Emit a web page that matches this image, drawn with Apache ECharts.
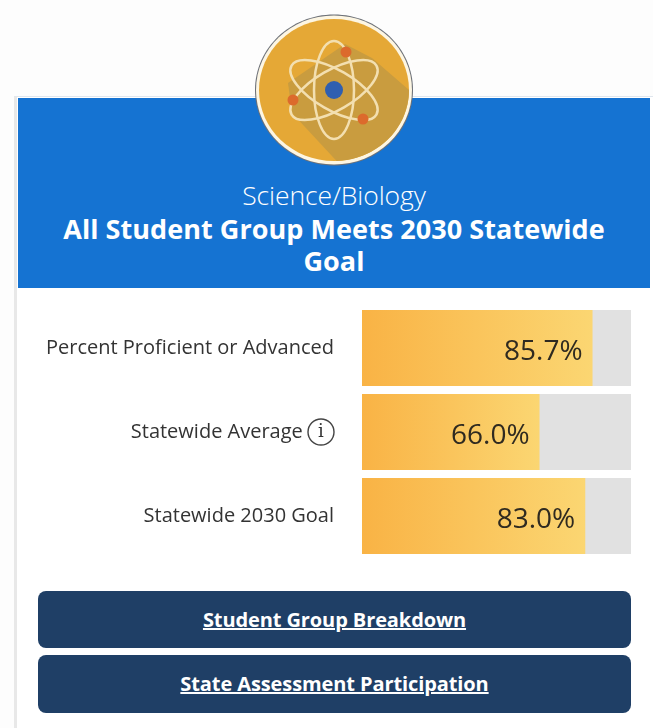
<!DOCTYPE html>
<html>
<head>
<meta charset="utf-8">
<title>Science/Biology</title>
<script src="https://cdn.jsdelivr.net/npm/echarts@6/dist/echarts.min.js"></script>
<style>
	html, body { margin: 0; padding: 0; }
	body { width: 653px; height: 728px; background: #fdfdfd; overflow: hidden; font-family: "Open Sans", sans-serif; position: relative; }
	.card { position: absolute; left: 14px; top: 96px; width: 639px; height: 632px; background: #fff; border-left: 3px solid #e8e8e8; border-top: 1px solid #dfe6ee; }
	.header { position: absolute; left: 18px; top: 98px; width: 632px; height: 190px; background: #1573d2; color: #fff; text-align: center; }
	.subject { position: absolute; left: 0; right: 0; top: 81px; font-size: 26.5px; line-height: 32px; font-weight: 300; letter-spacing: -0.1px; }
	.goal { position: absolute; left: 30px; right: 30px; top: 115px; font-size: 27px; line-height: 32px; font-weight: 700; letter-spacing: 0.05px; }
	.btn { position: absolute; left: 38px; width: 593px; background: #1f3f66; border-radius: 8px; color: #fff; text-align: center; font-size: 20px; font-weight: 700; text-decoration: underline; letter-spacing: -0.1px; }
	#chart { position: absolute; left: 0; top: 0; width: 653px; height: 728px; }
</style>
</head>
<body>
<div class="card"></div>
<div class="header">
	<div class="subject">Science/Biology</div>
	<div class="goal">All Student Group Meets 2030 Statewide Goal</div>
</div>
<div class="btn" style="top:591px;height:57px;line-height:57px">Student Group Breakdown</div>
<div class="btn" style="top:655px;height:58px;line-height:58px">State Assessment Participation</div>
<div id="chart"></div>
<script>
	var categories = ['Percent Proficient or Advanced', 'Statewide Average', 'Statewide 2030 Goal'];
	var percentValues = [85.7, 66.0, 83.0];
	var trackValues = [100, 100, 100];

	var chart = echarts.init(document.getElementById('chart'));

	//原子图标
	var cx = 334, cy = 90;
	function orbit(angle) {
		return {
			type: 'ellipse',
			x: cx, y: cy,
			rotation: angle * Math.PI / 180,
			shape: { cx: 0, cy: 0, rx: 49, ry: 20 },
			style: { fill: null, stroke: '#f3dfb0', lineWidth: 2.5 },
			z: 5
		};
	}
	function electron(x, y) {
		return { type: 'circle', shape: { cx: x, cy: y, r: 5.5 }, style: { fill: '#dc6a2c' }, z: 6 };
	}
	//长阴影，沿圆边走一段
	function shadowPoints() {
		var pts = [[345, 44], [372, 58]];
		for (var a = 0; a <= 88; a += 4) {
			var r = a * Math.PI / 180;
			pts.push([cx + 75 * Math.cos(r), cy + 71 * Math.sin(r)]);
		}
		pts.push([292, 113], [288, 83]);
		return pts;
	}

	chart.setOption({
		animation: false,
		grid: { left: 362, top: 306, width: 269, height: 252 },
		xAxis: { type: 'value', min: 0, max: 100, show: false },
		yAxis: {
			type: 'category',
			inverse: true,
			data: categories,
			axisLine: { show: false },
			axisTick: { show: false },
			axisLabel: {
				margin: 28,
				fontFamily: 'Open Sans',
				fontSize: 20,
				color: '#333',
				formatter: function (value) {
					return value === 'Statewide Average' ? value + ' {info|i}' : value;
				},
				rich: {
					info: {
						fontFamily: 'DejaVu Serif',
						fontSize: 18,
						color: '#333',
						width: 26,
						height: 26,
						lineHeight: 26,
						align: 'center',
						borderColor: '#444',
						borderWidth: 1.4,
						borderRadius: 14
					}
				}
			}
		},
		series: [{
			name: 'track',
			type: 'bar',
			data: trackValues,
			barWidth: 76,
			barGap: '-100%',
			itemStyle: { color: '#e1e1e1' },
			silent: true
		}, {
			name: 'percent',
			type: 'bar',
			data: percentValues,
			barWidth: 76,
			itemStyle: {
				color: new echarts.graphic.LinearGradient(0, 0, 1, 0, [
					{ offset: 0, color: '#f9b345' },
					{ offset: 1, color: '#fbd672' }
				])
			},
			label: {
				show: true,
				position: 'insideRight',
				distance: 10,
				fontFamily: 'Open Sans',
				fontSize: 28,
				color: '#2f2a20',
				offset: [0, 4],
				formatter: function (p) { return p.value.toFixed(1) + '%'; }
			}
		}],
		graphic: [
			{ type: 'ellipse', shape: { cx: cx, cy: cy, rx: 79, ry: 75.5 }, style: { fill: '#6d7178' }, z: 1 },
			{ type: 'ellipse', shape: { cx: cx, cy: cy, rx: 78, ry: 74.5 }, style: { fill: '#fdf6e3' }, z: 2 },
			{ type: 'ellipse', shape: { cx: cx, cy: cy, rx: 75, ry: 71 }, style: { fill: '#e5a836' }, z: 3 },
			{ type: 'polygon', shape: { points: shadowPoints() }, style: { fill: '#c99c3f' }, z: 4 },
			orbit(90),
			orbit(30),
			orbit(-30),
			{ type: 'circle', shape: { cx: cx, cy: cy, r: 9 }, style: { fill: '#2f5fb0' }, z: 6 },
			electron(346, 52),
			electron(293, 100),
			electron(363, 119)
		]
	});
</script>
</body>
</html>
